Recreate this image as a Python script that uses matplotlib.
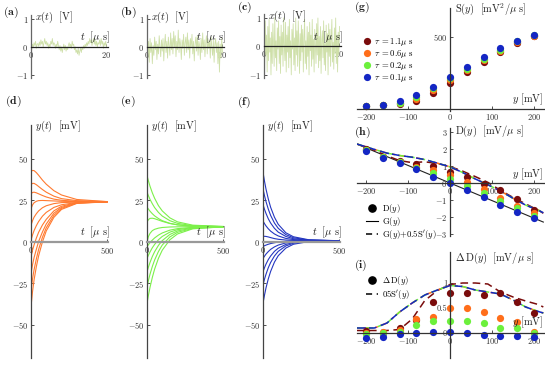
import numpy as np
import matplotlib
matplotlib.use('Agg')
import matplotlib.pyplot as plt
from matplotlib.lines import Line2D

plt.rcParams.update({'font.family': 'serif', 'font.serif': ['cmr10', 'DejaVu Serif'],
                     'mathtext.fontset': 'cm', 'axes.unicode_minus': False,
                     'axes.formatter.use_mathtext': True})

# ---------------- data ----------------
noise_a = [0.05,-0.1,0.1,0.0,0.15,0.05,0.2,-0.05,0.1,0.12,0.02,0.18,0.05,0.25,0.1,0.2,0.0,0.15,0.3,0.1,
           0.2,0.05,0.15,-0.05,0.1,0.0,0.2,0.1,0.3,0.05,0.15,0.1,-0.05,0.1,0.0,0.2,0.05,-0.1,0.05,-0.15,
           0.0,-0.2,-0.05,0.1,-0.1,0.05,-0.15,0.0,-0.1,0.05,0.15,0.0,0.1,-0.05,0.2,0.05,0.1,-0.1,0.0,-0.2,
           -0.1,-0.25,-0.05,-0.3,-0.15,-0.05,-0.2,0.0,-0.1,0.05,-0.05,0.1,0.0,0.15,0.05,0.2,0.1,0.3,0.15,0.25,
           0.05,0.2,0.3,0.1,0.25,0.05,0.2,0.0,0.15,0.1,0.25,0.05,0.3,0.1,0.2,-0.05,0.15,0.05,0.2,0.0]
noise_b = [0.1,-0.4,0.2,-0.55,0.3,-0.2,0.15,-0.6,0.05,-0.3,0.35,-0.1,0.2,-0.45,0.1,-0.25,0.4,0.0,-0.35,0.25,
           -0.15,0.3,-0.5,0.1,0.45,-0.2,0.2,-0.4,0.35,0.05,-0.3,0.5,-0.1,0.3,-0.25,0.55,0.0,0.4,-0.35,0.2,
           -0.1,0.6,-0.2,0.3,0.1,-0.45,0.25,-0.05,0.45,-0.3,0.15,0.35,-0.2,0.5,-0.1,0.25,-0.4,0.3,0.0,0.45,
           -0.25,0.2,-0.5,0.1,0.35,-0.15,0.4,-0.3,0.2,0.05,-0.45,0.3,-0.2,0.5,-0.1,0.25,-0.35,0.15,0.4,-0.25,
           0.3,-0.05,0.2,-0.4,0.35,0.0,-0.3,0.25,-0.55,0.1,0.3,-0.2,0.15,-0.6,0.2,-0.9,0.1,-0.4,0.3,-0.2]
noise_c = [0.6,-0.8,0.9,-0.3,0.4,-0.9,0.7,-0.5,0.95,-0.2,0.3,-1.0,0.5,-0.6,0.8,0.1,-0.7,1.0,-0.4,0.2,
           -0.85,0.65,-0.1,0.9,-0.6,0.35,-0.95,0.75,-0.3,0.5,-0.7,1.0,0.0,-0.5,0.85,-0.9,0.4,-0.2,0.7,-0.75,
           0.95,-0.4,0.2,-1.0,0.6,-0.1,0.8,-0.65,0.3,-0.85,1.0,-0.3,0.55,-0.7,0.9,0.1,-0.95,0.45,-0.5,0.75,
           -0.2,0.6,-0.9,0.3,0.95,-0.6,0.2,-0.8,0.7,-0.35,0.5,-1.0,0.85,-0.15,0.4,-0.7,0.95,-0.45,0.25,-0.9,
           0.6,0.05,-0.6,0.8,-0.3,1.0,-0.75,0.35,-0.5,0.7,-0.95,0.2,0.55,-0.4,0.9,-0.65,0.1,-0.85,0.75,-0.2,
           0.45,-1.0,0.8,-0.35,0.6,-0.7,0.3,0.95,-0.55,0.15,-0.8,0.65,-0.25,1.0,-0.6,0.4,-0.9,0.5,-0.3,0.7]

t_traj = [0, 10, 20, 35, 50, 75, 100, 150, 200, 300, 500]
traj_d = [
    [42.5, 43.1, 43.0, 41.8, 40.2, 37.3, 34.8, 30.9, 28.3, 25.6, 24.3],
    [34.5, 35.3, 35.3, 34.5, 33.4, 31.6, 30.0, 27.6, 26.1, 24.9, 24.3],
    [29.0, 29.8, 30.0, 29.6, 29.0, 28.0, 27.1, 25.8, 25.1, 24.5, 24.2],
    [20.0, 22.3, 23.6, 24.5, 24.9, 25.0, 24.9, 24.7, 24.5, 24.3, 24.2],
    [10.0, 12.8, 14.9, 17.0, 18.7, 20.6, 21.8, 23.1, 23.7, 24.0, 24.2],
    [1.0, 4.2, 6.8, 9.8, 12.3, 15.5, 17.8, 20.8, 22.4, 23.8, 24.2],
    [-9.0, -5.0, -1.8, 2.3, 5.8, 10.2, 13.6, 18.7, 21.5, 23.7, 24.2],
    [-19.0, -13.8, -9.5, -4.5, 0.3, 6.0, 10.8, 17.3, 20.8, 23.5, 24.2],
    [-29.0, -22.3, -16.8, -10.3, -4.5, 2.8, 8.5, 16.0, 20.2, 23.4, 24.2],
    [-39.0, -30.0, -23.0, -15.0, -8.4, 0.0, 6.6, 14.8, 19.6, 23.2, 24.2],
]
traj_e = [
    [40.0, 36.6, 33.5, 29.6, 26.3, 21.9, 18.7, 14.5, 12.1, 10.1, 9.3],
    [30.0, 27.7, 25.6, 23.0, 20.7, 17.8, 15.6, 12.8, 11.2, 9.8, 9.3],
    [21.0, 19.7, 18.5, 17.0, 15.7, 14.1, 12.8, 11.2, 10.3, 9.5, 9.2],
    [12.0, 13.5, 14.2, 14.3, 14.0, 13.2, 12.4, 11.1, 10.3, 9.5, 9.2],
    [0.0, 3.4, 5.2, 6.8, 7.6, 8.3, 8.7, 9.0, 9.1, 9.2, 9.2],
    [-3.0, -1.6, -0.4, 1.1, 2.4, 4.1, 5.4, 7.1, 8.0, 8.8, 9.2],
    [-10.0, -7.9, -6.0, -3.5, -1.5, 1.3, 3.3, 5.9, 7.4, 8.6, 9.1],
    [-18.0, -15.0, -12.3, -8.8, -5.9, -2.1, 0.8, 4.5, 6.6, 8.4, 9.1],
    [-27.0, -23.0, -19.4, -14.8, -10.9, -5.8, -1.9, 3.0, 5.8, 8.1, 9.1],
    [-37.0, -31.9, -27.3, -21.4, -16.4, -9.9, -5.0, 1.3, 4.8, 7.9, 9.1],
]
traj_f = [
    [42.0, 36.5, 31.7, 25.8, 20.9, 14.9, 10.6, 5.5, 3.1, 1.3, 0.7],
    [32.0, 27.8, 24.2, 19.7, 16.0, 11.4, 8.2, 4.4, 2.5, 1.1, 0.7],
    [22.5, 19.6, 17.1, 13.9, 11.4, 8.2, 5.9, 3.3, 1.9, 1.0, 0.7],
    [12.6, 11.0, 9.6, 7.9, 6.5, 4.8, 3.6, 2.1, 1.4, 0.9, 0.7],
    [3.2, 3.4, 3.3, 3.0, 2.6, 2.0, 1.6, 1.1, 0.9, 0.7, 0.7],
    [-2.8, -2.3, -1.9, -1.4, -1.0, -0.5, -0.1, 0.3, 0.5, 0.65, 0.7],
    [-10.0, -8.6, -7.3, -5.8, -4.5, -3.0, -1.9, -0.6, 0.1, 0.55, 0.7],
    [-18.0, -15.5, -13.3, -10.6, -8.5, -5.7, -3.8, -1.5, -0.4, 0.4, 0.7],
    [-26.0, -22.4, -19.4, -15.5, -12.4, -8.5, -5.7, -2.4, -0.8, 0.3, 0.7],
    [-37.0, -32.0, -27.6, -22.2, -17.8, -12.2, -8.3, -3.7, -1.4, 0.2, 0.7],
]

taus = ['1.1', '0.6', '0.2', '0.1']
colors = ['#7a0c0c', '#ff6e1a', '#6cf03c', '#1426c4']
y_pts = [-200, -160, -120, -80, -40, 0, 40, 80, 120, 160, 200]
S_vals = [
    [20, 27, 35, 55, 110, 180, 255, 325, 395, 460, 505],
    [20, 27, 40, 72, 130, 200, 268, 340, 400, 462, 508],
    [20, 28, 45, 85, 145, 212, 280, 350, 410, 470, 512],
    [20, 30, 52, 97, 155, 222, 290, 358, 420, 475, 515],
]
D_vals = [
    [2.0, 1.55, 1.3, 1.1, 1.0, 0.65, 0.35, -0.05, -0.4, -0.95, -1.6],
    [1.97, 1.55, 1.25, 0.97, 0.75, 0.48, 0.05, -0.35, -0.88, -1.35, -1.78],
    [1.95, 1.55, 1.22, 0.88, 0.6, 0.25, -0.15, -0.58, -1.05, -1.5, -1.92],
    [1.9, 1.5, 1.2, 0.8, 0.37, 0.0, -0.4, -0.85, -1.27, -1.68, -2.06],
]
dD_vals = [
    [0.04, 0.0, 0.1, 0.27, 0.62, 0.8, 0.8, 0.76, 0.8, 0.63, 0.4],
    [0.0, 0.02, 0.06, 0.28, 0.32, 0.5, 0.5, 0.43, 0.3, 0.22, 0.03],
    [-0.02, 0.0, 0.03, 0.17, 0.24, 0.25, 0.24, 0.2, 0.1, 0.1, 0.0],
    [-0.1, -0.08, -0.02, 0.0, 0.02, 0.03, 0.0, -0.03, -0.05, -0.06, -0.08],
]
G_x = [-222, 222]
G_y = [2.3, -2.3]
dash_x = [-222, -180, -150, -120, -90, -60, -30, 0, 30, 60, 90, 120, 150, 180, 210, 222]
h_dash_dark = [2.3, 1.93, 1.6, 1.32, 1.2, 1.25, 1.15, 0.97, 0.7, 0.38, 0.04, -0.43, -0.85, -1.23, -1.6, -1.78]
h_dash_light = [2.3, 1.98, 1.76, 1.62, 1.52, 1.38, 1.17, 0.95, 0.62, 0.24, -0.1, -0.47, -0.9, -1.3, -1.6, -1.75]
i_dash_dark = [0.05, 0.05, 0.05, 0.07, 0.28, 0.65, 0.85, 0.97, 1.0, 1.0, 0.98, 0.82, 0.72, 0.64, 0.57, 0.52]
i_dash_light = [0.1, 0.1, 0.2, 0.42, 0.6, 0.76, 0.86, 0.95, 0.93, 0.86, 0.82, 0.78, 0.66, 0.52, 0.43, 0.4]

# ---------------- layout helpers ----------------
W, H = 545, 390
fig = plt.figure(figsize=(5.45, 3.9), dpi=100)


def add_ax(l, t, r, b):
    return fig.add_axes([l / W, 1 - b / H, (r - l) / W, (b - t) / H])


def style(ax, xcol='#222', ycol='#555', xlw=0.9, ylw=0.9):
    for s in ['top', 'right']:
        ax.spines[s].set_visible(False)
    ax.spines['left'].set_position(('data', 0))
    ax.spines['bottom'].set_position(('data', 0))
    ax.spines['left'].set_color(ycol)
    ax.spines['left'].set_linewidth(ylw)
    ax.spines['bottom'].set_color(xcol)
    ax.spines['bottom'].set_linewidth(xlw)
    ax.patch.set_alpha(0)
    ax.tick_params(direction='in', length=2, width=0.6, labelsize=6, pad=2, colors='#333')


def ftxt(x, y, s, ha='left', va='center', size=7.5, color='#222'):
    fig.text(x / W, 1 - y / H, s, ha=ha, va=va, fontsize=size, color=color)


# ---------------- (a)-(c) noise ----------------
for (l, t, r, b), data, lab, lx, ly in [((31, 15, 108, 78), noise_a, 'a', 3, 12),
                                         ((147, 15, 224, 78), noise_b, 'b', 120, 12),
                                         ((264, 14, 341, 78), noise_c, 'c', 237, 7)]:
    ax = add_ax(l, t, r, b)
    ts = np.linspace(0, 20, len(data))
    ax.plot(ts, data, color='#cfe0aa', lw=0.6, clip_on=True)
    ax.set_xlim(0, 20.4)
    ax.set_ylim(-1.11, 1.14)
    style(ax, xcol='#222', ycol='#666')
    ax.set_xticks([0, 20])
    ax.set_yticks([-1, 0, 1])
    ftxt(lx, ly, r'$\mathbf{(%s)}$' % lab, size=8.5)
    ftxt(l + 4, t + 2, r'$x(t)\ \ [\mathrm{V}]$')
    ftxt(r + 2, 37, r'$t\ \ [\mu\ \mathrm{s}]$', ha='right')

# ---------------- (d)-(f) trajectories ----------------
for (l, t, r, b), trajs, col, lab, lx, ly in [((31, 125, 108, 358), traj_d, '#ff7a30', 'd', 5, 101),
                                               ((147, 125, 224, 358), traj_e, '#7cf04a', 'e', 120, 101),
                                               ((263, 125, 340, 358), traj_f, '#2436c0', 'f', 237, 102)]:
    ax = add_ax(l, t, r, b)
    for tr in trajs:
        ax.plot(t_traj, tr, color=col, lw=0.8)
    ax.set_xlim(0, 505)
    ax.set_ylim(-70, 70.5)
    style(ax, xcol='#999', ycol='#444', xlw=1.6, ylw=0.9)
    ax.set_xticks([0, 500])
    ax.set_yticks([-50, -25, 0, 25, 50])
    ftxt(lx, ly, r'$\mathbf{(%s)}$' % lab, size=8.5)
    ftxt(l + 4, t + 1, r'$y(t)\ \ [\mathrm{mV}]$')
    ftxt(r + 2, 232, r'$t\ \ [\mu\ \mathrm{s}]$', ha='right')

# ---------------- (g) S(y) ----------------
axg = add_ax(357, 8, 545, 111)
for k in range(4):
    axg.plot(y_pts, S_vals[k], 'o', color=colors[k], ms=5.2, mec='none', clip_on=False)
axg.set_xlim(-221.4, 226)
axg.set_ylim(-14, 701)
style(axg, xcol='#333', ycol='#333')
axg.set_xticks([-200, -100, 0, 100, 200])
axg.set_yticks([500])
ftxt(354, 7, r'$\mathbf{(g)}$', size=8.5)
ftxt(455, 9, r'$\mathrm{S}(y)\ \ [\mathrm{mV}^2/\mu\ \mathrm{s}]$')
ftxt(543, 99, r'$y\ [\mathrm{mV}]$', ha='right')
hg = [Line2D([], [], marker='o', ls='none', color=colors[k], ms=5.2, mec='none') for k in range(4)]
axg.legend(hg, [r'$\tau\ =%s\mu\ \mathrm{s}$' % tt for tt in taus], loc='upper left',
           bbox_to_anchor=(359 / W, 1 - 32 / H), bbox_transform=fig.transFigure, frameon=False,
           fontsize=6.2, handlelength=0.8, handletextpad=0.5, labelspacing=0.0, borderpad=0)

# ---------------- (h) D(y) ----------------
axh = add_ax(357, 128, 545, 236)
axh.plot(G_x, G_y, color='#222', lw=0.8)
axh.plot(dash_x, h_dash_dark, color=colors[0], lw=1.1, dashes=(5, 3))
for k, off in zip([1, 2, 3], [2, 4, 6]):
    axh.plot(dash_x, h_dash_light, color=colors[k], lw=1.1)
    axh.lines[-1].set_dashes((off, 2, 5, 3))
for k in range(4):
    axh.plot(y_pts, D_vals[k], 'o', color=colors[k], ms=5.2, mec='none')
axh.set_xlim(-221.4, 226)
axh.set_ylim(-3.12, 3.24)
style(axh, xcol='#333', ycol='#333')
axh.set_xticks([-200, -100, 0, 100, 200])
axh.set_yticks([-3, -2, -1, 0, 1, 2, 3])
ftxt(354, 132, r'$\mathbf{(h)}$', size=8.5)
ftxt(455, 131, r'$\mathrm{D}(y)\ \ [\mathrm{mV}/\mu\ \mathrm{s}]$')
ftxt(543, 174, r'$y\ [\mathrm{mV}]$', ha='right')
hh = [Line2D([], [], marker='o', ls='none', color='black', ms=5.2),
      Line2D([], [], color='black', lw=0.8),
      Line2D([], [], color='black', lw=1.1, dashes=(4, 3, 1, 3))]
axh.legend(hh, [r'$\mathrm{D}(y)$', r'$\mathrm{G}(y)$', r"$\mathrm{G}(y){+}0.5\mathrm{S}'(y)$"],
           loc='upper left', bbox_to_anchor=(362 / W, 1 - 198 / H), bbox_transform=fig.transFigure,
           frameon=False, fontsize=6.2, handlelength=1.3, handletextpad=0.5, labelspacing=0.0, borderpad=0)

# ---------------- (i) Delta D ----------------
axi = add_ax(357, 252, 545, 358)
axi.plot(dash_x, i_dash_dark, color=colors[0], lw=1.1, dashes=(5, 3))
for k, off in zip([1, 2, 3], [2, 4, 6]):
    axi.plot(dash_x, i_dash_light, color=colors[k], lw=1.1)
    axi.lines[-1].set_dashes((off, 2, 5, 3))
for k in range(4):
    axi.plot(y_pts, dD_vals[k], 'o', color=colors[k], ms=5.2, mec='none')
axi.set_xlim(-221.4, 226)
axi.set_ylim(-0.5, 1.62)
style(axi, xcol='#333', ycol='#333')
axi.set_xticks([-200, -100, 0, 100, 200])
axi.set_yticks([0, 0.5, 1])
axi.set_yticklabels(['0', '0.5', '1'])
ftxt(354, 265, r'$\mathbf{(i)}$', size=8.5)
ftxt(455, 258, r'$\Delta\,\mathrm{D}(y)\ \ [\mathrm{mV}/\mu\ \mathrm{s}]$')
ftxt(543, 322, r'$y\ [\mathrm{mV}]$', ha='right')
hi = [Line2D([], [], marker='o', ls='none', color='black', ms=5.2),
      Line2D([], [], color='black', lw=1.1, dashes=(4, 3, 1, 3))]
axi.legend(hi, [r'$\Delta\,\mathrm{D}(y)$', r"$05\mathrm{S}'(y)$"],
           loc='upper left', bbox_to_anchor=(362 / W, 1 - 270 / H), bbox_transform=fig.transFigure,
           frameon=False, fontsize=6.2, handlelength=1.3, handletextpad=0.5, labelspacing=0.1, borderpad=0)

fig.savefig('out.png', dpi=100)
